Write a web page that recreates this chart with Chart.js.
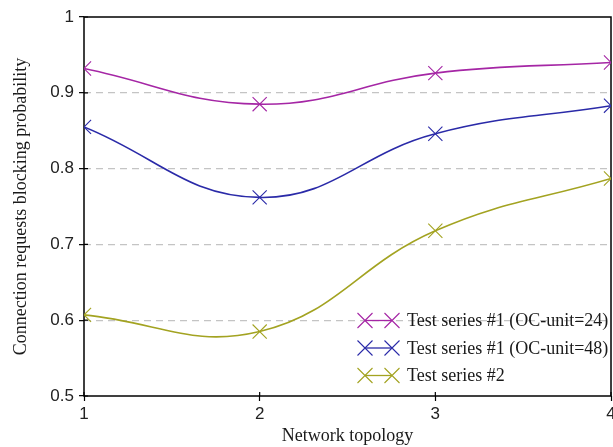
<!DOCTYPE html>
<html><head><meta charset="utf-8">
<script src="https://cdn.jsdelivr.net/npm/chart.js@4"></script>
<style>html,body{margin:0;padding:0;background:#fff;overflow:hidden}#wrap{width:613px;height:447px;position:relative;overflow:hidden}canvas{display:block}</style>
</head><body><div id="wrap"><canvas id="c" width="627" height="447" style="width:627px;height:447px"></canvas></div>
<script>
const xCategories = [1, 2, 3, 4];
const seriesNames = ['Test series #1 (OC-unit=24)', 'Test series #1 (OC-unit=48)', 'Test series #2'];
const series24 = [0.932, 0.885, 0.926, 0.940];
const series48 = [0.855, 0.762, 0.846, 0.883];
const series2 = [0.607, 0.585, 0.718, 0.787];
const yTickValues = [0.5, 0.6, 0.7, 0.8, 0.9, 1];
const xTickValues = [1, 2, 3, 4];
const xTitle = 'Network topology';
const yTitle = 'Connection requests blocking probability';
const seriesColors = ['#a526a5', '#2a2aa8', '#a3a321'];

const serif = '"Liberation Serif", "Times New Roman", serif';
const sans = '"Liberation Sans", Arial, sans-serif';

function toPoints(vals) { return xCategories.map((x, i) => ({ x: x, y: vals[i] })); }

const allSeries = [series24, series48, series2];
const datasets = allSeries.map((vals, i) => ({
  label: seriesNames[i],
  data: toPoints(vals),
  borderColor: seriesColors[i],
  backgroundColor: seriesColors[i],
  borderWidth: 1.6,
  tension: 0.42,
  pointStyle: 'crossRot',
  pointRadius: 10,
  pointHoverRadius: 10,
  pointBorderWidth: 1.1,
  fill: false
}));

function drawX(ctx, x, y, h) {
  ctx.beginPath();
  ctx.moveTo(x - h, y - h); ctx.lineTo(x + h, y + h);
  ctx.moveTo(x - h, y + h); ctx.lineTo(x + h, y - h);
  ctx.stroke();
}

const framePlugin = {
  id: 'frame',
  beforeDatasetsDraw(chart) {
    const { ctx, chartArea: a, scales } = chart;
    ctx.save();
    ctx.strokeStyle = '#000';
    ctx.lineWidth = 1.5;
    ctx.strokeRect(a.left, a.top, a.right - a.left, a.bottom - a.top);
    ctx.lineWidth = 1.2;
    ctx.beginPath();
    yTickValues.forEach(v => {
      const py = scales.y.getPixelForValue(v);
      ctx.moveTo(a.left, py); ctx.lineTo(a.left + 4, py);
    });
    xTickValues.forEach(v => {
      const px = scales.x.getPixelForValue(v);
      ctx.moveTo(px, a.bottom); ctx.lineTo(px, a.bottom - 4);
    });
    ctx.stroke();
    ctx.restore();
  },
  afterDraw(chart) {
    const { ctx, chartArea: a } = chart;
    ctx.save();
    const x0 = a.right - 246, x1 = a.right - 219;
    chart.data.datasets.forEach((ds, i) => {
      const y = a.bottom - 75.5 + i * 27.5;
      ctx.strokeStyle = ds.borderColor;
      ctx.lineWidth = 1.3;
      ctx.beginPath(); ctx.moveTo(x0, y); ctx.lineTo(x1, y); ctx.stroke();
      ctx.lineWidth = 1.1;
      drawX(ctx, x0, y, 7.5);
      drawX(ctx, x1, y, 7.5);
      ctx.fillStyle = '#1a1a1a';
      ctx.font = '18px ' + serif;
      ctx.textBaseline = 'middle';
      ctx.textAlign = 'left';
      ctx.fillText(ds.label, x1 + 15, y + 1);
    });
    ctx.restore();
  }
};

new Chart(document.getElementById('c'), {
  type: 'line',
  data: { datasets: datasets },
  plugins: [framePlugin],
  options: {
    responsive: false,
    animation: false,
    events: [],
    layout: { padding: { left: 8, top: 17, right: 16, bottom: 0 } },
    plugins: { legend: { display: false }, tooltip: { enabled: false } },
    scales: {
      x: {
        type: 'linear',
        min: 1, max: 4,
        afterBuildTicks: s => { s.ticks = xTickValues.map(v => ({ value: v })); },
        afterFit: s => { s.height = 51; },
        ticks: { color: '#222', font: { family: sans, size: 17 }, padding: 3, maxRotation: 0, autoSkip: false,
          callback: v => String(v) },
        grid: { drawOnChartArea: false, drawTicks: true, tickLength: 5, tickColor: '#000', tickWidth: 1.2, tickBorderDash: [] },
        border: { display: false },
        title: { display: true, text: xTitle, color: '#1a1a1a', font: { family: serif, size: 18 }, padding: { top: 0, bottom: 0 } }
      },
      y: {
        type: 'linear',
        min: 0.5, max: 1,
        afterBuildTicks: s => { s.ticks = yTickValues.map(v => ({ value: v })); },
        afterFit: s => { s.width = 76; },
        ticks: { color: '#222', font: { family: sans, size: 17 }, padding: 5, autoSkip: false,
          callback: v => String(Math.round(v * 10) / 10) },
        grid: {
          drawTicks: true, tickLength: 5, tickColor: '#000', tickWidth: 1.2, tickBorderDash: [],
          lineWidth: 1.3,
          color: c => (c.tick && (c.tick.value === 0.5 || c.tick.value === 1)) ? 'rgba(0,0,0,0)' : '#c4c4c4'
        },
        border: { display: false, dash: [7, 5] },
        title: { display: true, text: yTitle, color: '#1a1a1a', font: { family: serif, size: 18 }, padding: { top: 2, bottom: 2 } }
      }
    }
  }
});
</script>
</body></html>
